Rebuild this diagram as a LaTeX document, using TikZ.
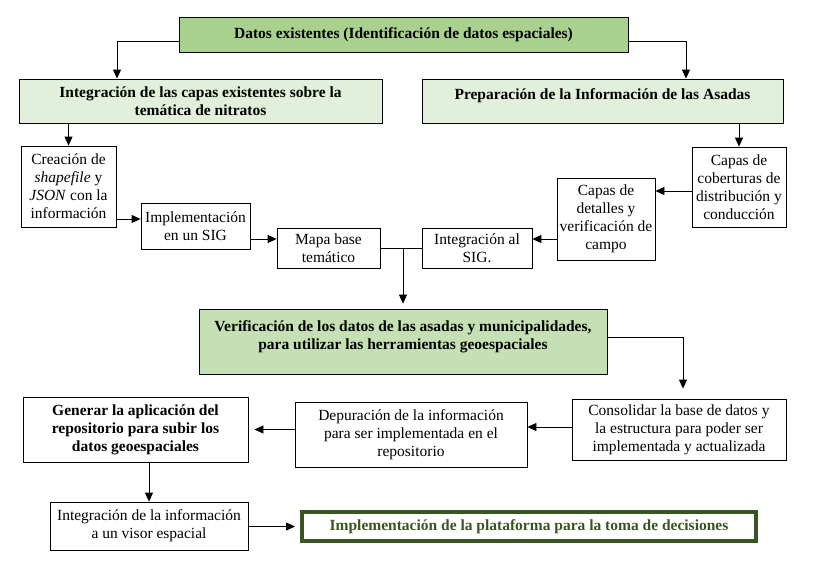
\documentclass[tikz,border=0pt]{standalone}
\usepackage{fontspec}
\setmainfont{Liberation Serif}
\usepackage{tikz}
\usetikzlibrary{shapes.geometric, arrows.meta}
\definecolor{verdefuerte}{HTML}{A9D18E}
\definecolor{verdeclaro}{HTML}{E2EFDA}
\definecolor{verdemedio}{HTML}{C5E0B4}
\definecolor{verdeborde}{HTML}{375623}
\tikzstyle{arrow} = [line width=0.8pt,-{Triangle[length=9pt,width=8pt]}]
\tikzstyle{line} = [line width=0.8pt]
\tikzstyle{box} = [draw, rectangle, line width=0.8pt, align=center, inner sep=2pt, font=\fontsize{15.5}{18}\selectfont]

\begin{document}
\begin{tikzpicture}[x=1pt, y=-1pt]
	\useasboundingbox (0,0) rectangle (820,570);
	\node[box, fill=verdefuerte, minimum width=449pt, minimum height=35pt] (datos) at (403.5,34.5) {\textbf{Datos existentes (Identificación de datos espaciales)}};
	\node[box, fill=verdeclaro, minimum width=363pt, minimum height=44pt] (integ) at (200.5,101) {\textbf{Integración de las capas existentes sobre la}\\\textbf{temática de nitratos}};
	\node[box, fill=verdeclaro, minimum width=361pt, minimum height=44pt, text depth=14.5pt] (prep) at (602.5,101) {\textbf{Preparación de la Información de las Asadas}};
	\node[box, minimum width=95pt, minimum height=81pt] (creacion) at (68.5,186.5) {Creación de\\\textit{shapefile} y\\\textit{JSON} con la\\información};
	\node[box, minimum width=109pt, minimum height=46pt] (impl) at (195.5,226) {Implementación\\en un SIG};
	\node[box, minimum width=103pt, minimum height=40pt] (mapa) at (328.5,248) {Mapa base\\temático};
	\node[box, minimum width=110pt, minimum height=40pt] (integsig) at (477,248) {Integración al\\SIG.};
	\node[box, minimum width=98pt, minimum height=82pt] (detalles) at (606,219) {Capas de\\detalles y\\verificación de\\campo};
	\node[box, minimum width=94pt, minimum height=80pt] (coberturas) at (739,187) {Capas de\\coberturas de\\distribución y\\conducción};
	\node[box, fill=verdemedio, minimum width=408pt, minimum height=65pt, text depth=13.5pt] (verif) at (403,341.5) {\textbf{Verificación de los datos de las asadas y municipalidades,}\\\textbf{para utilizar las herramientas geoespaciales}};
	\node[box, minimum width=214pt, minimum height=61pt] (consolidar) at (679,429.5) {Consolidar la base de datos y\\la estructura para poder ser\\implementada y actualizada};
	\node[box, minimum width=232pt, minimum height=65pt] (depuracion) at (411,434.5) {Depuración de la información\\para ser implementada en el\\repositorio};
	\node[box, minimum width=225pt, minimum height=65pt] (generar) at (135.5,429.5) {\textbf{Generar la aplicación del}\\\textbf{repositorio para subir los}\\\textbf{datos geoespaciales}};
	\node[box, minimum width=198pt, minimum height=48pt] (visor) at (149,526) {Integración de la información\\a un visor espacial};
	\node[box, draw=verdeborde, line width=4pt, minimum width=454pt, minimum height=29pt, text=verdeborde] (plataforma) at (529,526.5) {\textbf{Implementación de la plataforma para la toma de decisiones}};

	\draw[arrow] ([yshift=-7pt]datos.west) -| ([xshift=-83.5pt]integ.north);
	\draw[arrow] ([yshift=-7pt]datos.east) -| ([xshift=83.5pt]prep.north);
	\draw[arrow] (integ.south -| creacion.north) -- (creacion.north);
	\draw[arrow] ([yshift=-32.5pt]creacion.east) -- ([yshift=-32.5pt]creacion.east -| impl.west);
	\draw[arrow] ([yshift=-13pt]impl.east) -- ([yshift=-13pt]impl.east -| mapa.west);
	\draw[line] (mapa.east) -- (integsig.west);
	\draw[arrow, shorten >=5pt] (mapa.east -| verif.north) -- (verif.north);
	\draw[arrow] (prep.south -| coberturas.north) -- (coberturas.north);
	\draw[arrow] ([yshift=-4pt]coberturas.west) -- ([yshift=-4pt]coberturas.west -| detalles.east);
	\draw[arrow] ([yshift=-20pt]detalles.west) -- ([yshift=-20pt]detalles.west -| integsig.east);
	\draw[arrow, shorten >=10pt] ([yshift=4.5pt]verif.east) -| ([xshift=4pt]consolidar.north);
	\draw[arrow] ([yshift=2.5pt]consolidar.west) -- ([yshift=2.5pt]consolidar.west -| depuracion.east);
	\draw[arrow, shorten >=6pt] (depuracion.west |- generar.east) -- (generar.east);
	\draw[arrow] (generar.south -| visor.north) -- (visor.north);
	\draw[arrow, shorten >=5pt] (visor.east |- plataforma.west) -- (plataforma.west);
\end{tikzpicture}
\end{document}
